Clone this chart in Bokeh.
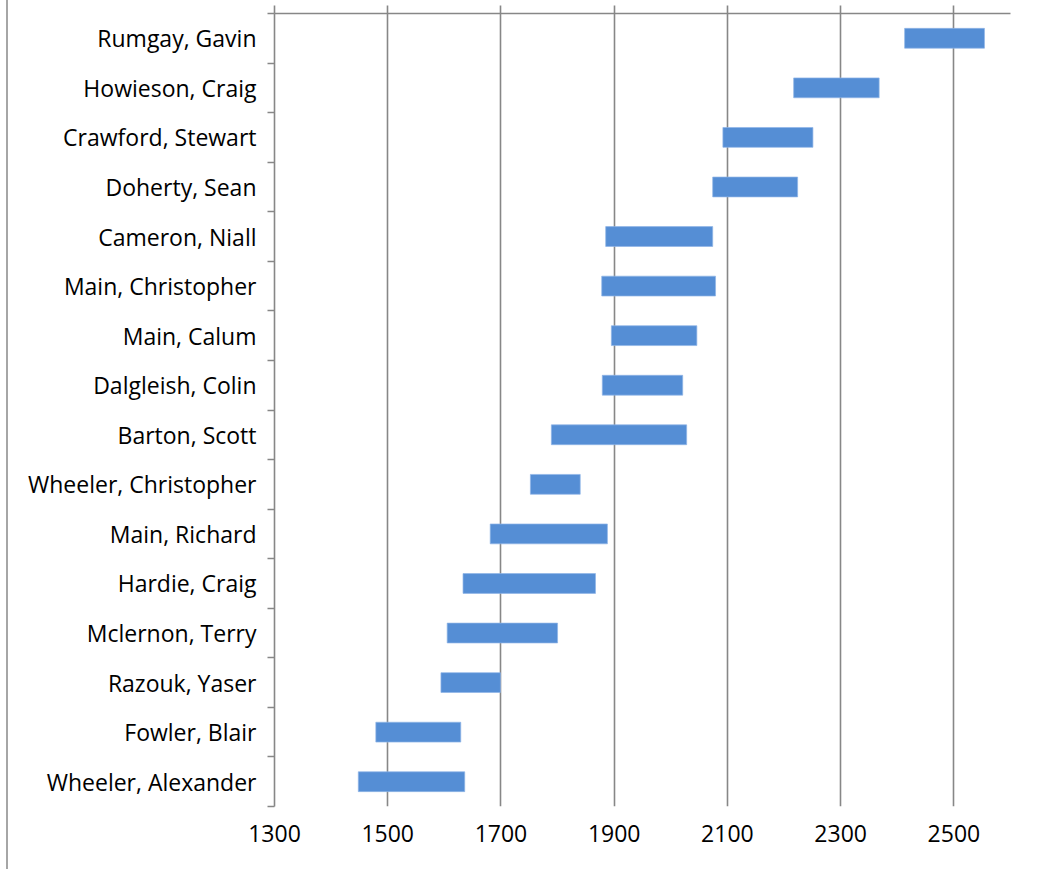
from bokeh.plotting import figure
from bokeh.models import FixedTicker, LinearAxis, Range1d
from bokeh.embed import file_html
from bokeh.resources import INLINE

# Data (top to bottom)
names = ["Rumgay, Gavin", "Howieson, Craig", "Crawford, Stewart", "Doherty, Sean",
         "Cameron, Niall", "Main, Christopher", "Main, Calum", "Dalgleish, Colin",
         "Barton, Scott", "Wheeler, Christopher", "Main, Richard", "Hardie, Craig",
         "Mclernon, Terry", "Razouk, Yaser", "Fowler, Blair", "Wheeler, Alexander"]
low = [2413, 2217, 2092, 2074, 1885, 1878, 1895, 1879, 1789, 1752, 1681, 1633, 1605, 1594, 1479, 1448]
high = [2554, 2368, 2251, 2224, 2074, 2079, 2046, 2021, 2028, 1840, 1888, 1867, 1800, 1699, 1629, 1636]
x_ticks = [1300, 1500, 1700, 1900, 2100, 2300, 2500]
x_min, x_max = 1300, 2600

n = len(names)
ypos = [n - i for i in range(n)]

FONT = "Open Sans"
GRID = "#878787"

p = figure(width=1052, height=869, output_backend="svg", toolbar_location=None,
           x_range=Range1d(x_min, x_max), y_range=Range1d(0.5, n + 0.5),
           min_border_left=266, min_border_right=50, min_border_top=13, min_border_bottom=63,
           x_axis_location=None, y_axis_location=None)
p.outline_line_color = None
p.styles = {"margin-left": "6px", "border-left": "2px solid #a6a6a6"}

p.hbar(y=ypos, left=low, right=high, height=0.40,
       fill_color="#558ed5", line_color="#8fb4e6", line_width=0.7)

# grid
p.ygrid.grid_line_color = None
p.xgrid.ticker = FixedTicker(ticks=x_ticks)
p.xgrid.grid_line_color = GRID
p.xgrid.grid_line_width = 1.6

# bottom axis: labels only
xb = LinearAxis(ticker=FixedTicker(ticks=x_ticks))
xb.axis_line_color = None
xb.major_tick_line_color = None
xb.minor_tick_line_color = None
xb.major_tick_out = 0
xb.major_tick_in = 0
xb.major_label_text_font = FONT
xb.major_label_text_font_size = "23px"
xb.major_label_text_color = "#000000"
xb.major_label_standoff = 18
p.add_layout(xb, "below")

# top axis: line + upward ticks
xt = LinearAxis(ticker=FixedTicker(ticks=x_ticks))
xt.axis_line_color = GRID
xt.axis_line_width = 1.6
xt.major_tick_line_color = GRID
xt.major_tick_line_width = 1.6
xt.major_tick_in = 0
xt.major_tick_out = 8
xt.minor_tick_line_color = None
xt.major_label_text_font_size = "1px"
xt.major_label_text_color = None
xt.major_label_standoff = 0
p.add_layout(xt, "above")

# left axis: labels at category centres, ticks at boundaries
yl = LinearAxis(ticker=FixedTicker(ticks=ypos, minor_ticks=[k + 0.5 for k in range(n + 1)]))
yl.major_label_overrides = {y: nm for y, nm in zip(ypos, names)}
yl.axis_line_color = GRID
yl.axis_line_width = 1.6
yl.major_tick_line_color = None
yl.major_tick_out = 0
yl.major_tick_in = 0
yl.minor_tick_line_color = GRID
yl.minor_tick_line_width = 1.6
yl.minor_tick_in = 0
yl.minor_tick_out = 7
yl.major_label_text_font = FONT
yl.major_label_text_font_size = "23px"
yl.major_label_text_color = "#000000"
yl.major_label_standoff = 11
p.add_layout(yl, "left")

open("out.html", "w").write(file_html(p, INLINE))
